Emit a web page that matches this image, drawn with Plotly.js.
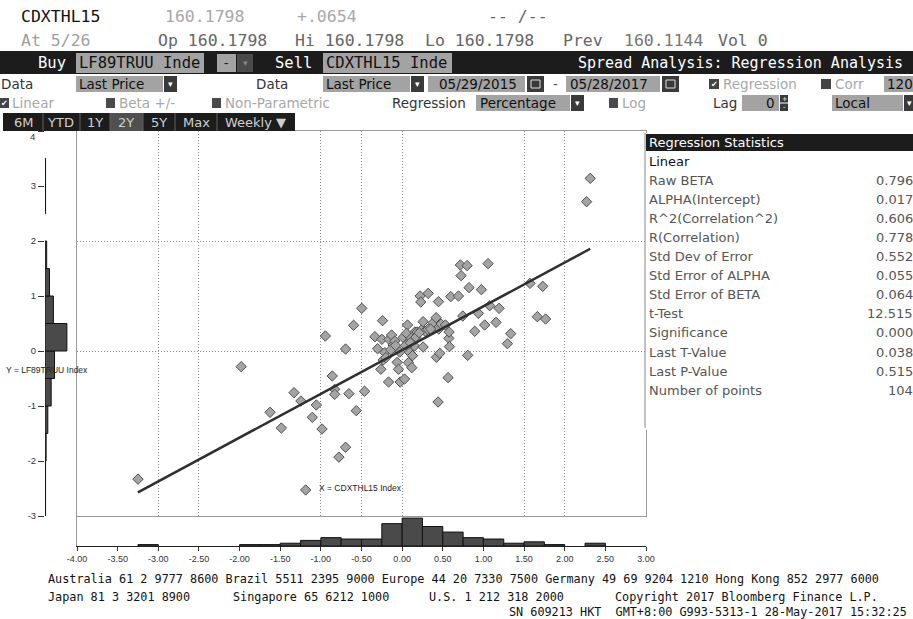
<!DOCTYPE html>
<html><head><meta charset="utf-8">
<script src="https://cdn.plot.ly/plotly-3.0.1.min.js"></script>
<style>html,body{margin:0;padding:0;background:#fff;}#chart{width:913px;height:619px;}</style>
</head><body><div id="chart"></div>
<script>
// X: CDXTHL15 Index weekly % change, Y: LF89TRUU Index weekly % change
const cdxVals = [-3.25,-1.98,-1.625,-1.486,-1.33,-1.245,-1.187,-1.105,-1.056,-0.986,-0.945,-0.86,-0.83,-0.83,-0.778,-0.696,-0.696,-0.655,-0.597,-0.565,-0.497,
-0.462,-0.335,-0.302,-0.249,-0.241,-0.262,-0.233,-0.213,-0.167,-0.16,-0.13,-0.11,-0.09,-0.061,-0.045,-0.024,0.012,0.029,0.066,0.054,
0.074,0.078,0.095,0.111,0.119,0.127,0.156,0.152,0.184,0.221,0.23,0.242,0.258,0.258,0.283,0.316,0.32,0.381,0.418,0.422,
0.447,0.451,0.463,0.479,0.442,0.533,0.565,0.574,0.577,0.582,0.598,0.693,0.717,0.725,0.746,0.799,0.807,0.823,0.893,0.938,
0.975,1.016,1.057,1.077,1.155,1.192,1.295,1.335,1.573,1.663,1.729,1.765,2.269,2.314,
-0.2,-0.14,-0.08,-0.03,0.04,0.1,0.17,0.21,0.35];
const lf89Vals = [-2.33,-0.285,-1.115,-1.40,-0.758,-0.909,-2.527,-1.206,-0.982,-1.418,0.273,-0.455,-0.697,-0.788,-1.93,-1.75,0.036,-0.776,0.467,-1.085,0.776,
-0.733,0.26,0.042,0.212,0.552,-0.333,-0.164,-0.03,-0.564,0.212,0.29,0.109,0.18,-0.206,-0.333,-0.564,0.248,-0.51,0.473,0.321,
0.152,-0.212,-0.03,0.23,-0.303,-0.085,0.345,0.091,0.345,1.0,0.891,0.388,0.533,0.073,0.358,0.394,1.048,0.515,0.606,-0.115,
0.897,0.4,-0.042,0.49,-0.927,0.473,-0.485,0.23,0.345,0.079,0.988,1.0,1.564,1.37,0.636,1.552,-0.079,1.152,0.358,0.685,
1.115,0.473,1.588,0.824,0.521,0.776,0.133,0.315,1.23,0.624,1.176,0.582,2.715,3.139,
-0.12,0.02,0.1,-0.02,0.1,0.15,0.25,0.33,0.4];

const statLabels = ["Linear","Raw BETA","ALPHA(Intercept)","R^2(Correlation^2)","R(Correlation)","Std Dev of Error","Std Error of ALPHA","Std Error of BETA","t-Test","Significance","Last T-Value","Last P-Value","Number of points"];
const statValues = ["","0.796","0.017","0.606","0.778","0.552","0.055","0.064","12.515","0.000","0.038","0.515","104"];
const rawBeta = 0.796, alphaIntercept = 0.017;

const yTickVals = [-3,-2,-1,0,1,2,3,4];
const xTickVals = [-4,-3.5,-3,-2.5,-2,-1.5,-1,-0.5,0,0.5,1,1.5,2,2.5,3];
const xGridVals = [-3,-2.5,-1,-0.5,0,1.5,2];
const yGridVals = [0,2];

const footerLine1 = "Australia 61 2 9777 8600 Brazil 5511 2395 9000 Europe 44 20 7330 7500 Germany 49 69 9204 1210 Hong Kong 852 2977 6000";
const footerLine2 = ["Japan 81 3 3201 8900","Singapore 65 6212 1000","U.S. 1 212 318 2000","Copyright 2017 Bloomberg Finance L.P."];
const footerLine3 = "SN 609213 HKT  GMT+8:00 G993-5313-1 28-May-2017 15:32:25";

const W = 913, H = 619;
const X = p => p / W, Y = p => 1 - p / H;
const MONO = "DejaVu Sans Mono", SANS = "DejaVu Sans", ARIAL = "Liberation Sans";
const shapes = [], annotations = [];
function rect(x0, y0, x1, y1, fill, lineColor) {
  shapes.push({type:'rect', xref:'paper', yref:'paper', x0:X(x0), x1:X(x1), y0:Y(y1), y1:Y(y0),
    fillcolor: fill, line:{width: lineColor ? 1 : 0, color: lineColor || fill}, layer:'above'});
}
function vline(x, y0, y1, color) {
  shapes.push({type:'line', xref:'paper', yref:'paper', x0:X(x), x1:X(x), y0:Y(y0), y1:Y(y1), line:{width:1, color}, layer:'above'});
}
function txt(x, y, text, o) {
  o = o || {};
  annotations.push({xref:'paper', yref:'paper', x:X(x), y:Y(y), text, showarrow:false,
    xanchor:o.anchor || 'left', yanchor:'middle', borderpad:0,
    font:{family:o.family || MONO, size:o.size || 16.5, color:o.color || '#111'}});
}

// Header rows
txt(20, 17, 'CDXTHL15', {color:'#111'});
txt(164, 17, '160.1798', {color:'#a8a8a8'});
txt(296, 17, '+.0654', {color:'#a8a8a8'});
txt(487, 17, '-- /--', {color:'#666'});
txt(20, 40, 'At 5/26', {color:'#a0a0a0'});
txt(157, 40, 'Op 160.1798', {color:'#666'});
txt(294, 40, 'Hi 160.1798', {color:'#666'});
txt(424, 40, 'Lo 160.1798', {color:'#666'});
txt(562, 40, 'Prev', {color:'#666'});
txt(623, 40, '160.1144', {color:'#777'});
txt(717, 40, 'Vol 0', {color:'#666'});

// Row 3 black bar
rect(0, 51, 913, 74, '#1c1c1c');
txt(67, 63, 'Buy', {anchor:'right', color:'#fff', size:15.5});
rect(76, 53, 204, 73, '#a3a3a3');
txt(78, 63, 'LF89TRUU Inde', {size:15.5, color:'#111'});
rect(217, 54, 236, 72, '#a3a3a3');
txt(226, 63, '-', {anchor:'center', size:14, color:'#222'});
rect(237, 54, 253, 72, '#4a4a4a');
txt(245, 63, '▾', {anchor:'center', family:SANS, size:9, color:'#888'});
txt(313, 63, 'Sell', {anchor:'right', color:'#fff', size:15.5});
rect(323, 53, 452, 73, '#a3a3a3');
txt(325, 63, 'CDXTHL15 Inde', {size:15.5, color:'#111'});
txt(904, 63, 'Spread Analysis: Regression Analysis', {anchor:'right', color:'#fff', size:15});

// Row 4
const R4 = 84, F4 = 13.5;
txt(0, R4, 'Data', {family:SANS, size:F4, color:'#333'});
rect(76, 76, 163, 92, '#a3a3a3');
txt(78, R4, 'Last Price', {family:SANS, size:F4});
rect(164, 76, 177, 92, '#3a3a3a');
txt(170.5, R4, '▾', {anchor:'center', family:SANS, size:9, color:'#fff'});
txt(255, R4, 'Data', {family:SANS, size:F4, color:'#333'});
rect(323, 76, 410, 92, '#a3a3a3');
txt(325, R4, 'Last Price', {family:SANS, size:F4});
rect(411, 76, 424, 92, '#3a3a3a');
txt(417.5, R4, '▾', {anchor:'center', family:SANS, size:9, color:'#fff'});
rect(428, 76, 525, 92, '#a3a3a3');
txt(438, R4, '05/29/2015', {family:SANS, size:F4});
rect(527, 76, 544, 92, '#3a3a3a');
shapes.push({type:'rect', xref:'paper', yref:'paper', x0:X(531), x1:X(540), y0:Y(88), y1:Y(80), line:{width:1, color:'#ddd'}, layer:'above'});
txt(555, R4, '-', {anchor:'center', family:SANS, size:F4, color:'#555'});
rect(566, 76, 660, 92, '#a3a3a3');
txt(569, R4, '05/28/2017', {family:SANS, size:F4});
rect(662, 76, 679, 92, '#3a3a3a');
shapes.push({type:'rect', xref:'paper', yref:'paper', x0:X(666), x1:X(675), y0:Y(88), y1:Y(80), line:{width:1, color:'#ddd'}, layer:'above'});
rect(709, 79, 719, 89, '#444');
txt(714, R4, '✔', {anchor:'center', family:SANS, size:8, color:'#fff'});
txt(722, R4, 'Regression', {family:SANS, size:F4, color:'#a8a8a8'});
rect(821, 79, 831, 89, '#444');
txt(834, R4, 'Corr', {family:SANS, size:F4, color:'#a8a8a8'});
rect(884, 76, 913, 92, '#a3a3a3');
txt(886, R4, '120', {family:SANS, size:F4});

// Row 5
const R5 = 103;
rect(0, 98, 9, 108, '#444');
txt(4.5, R5, '✔', {anchor:'center', family:SANS, size:8, color:'#fff'});
txt(11, R5, 'Linear', {family:SANS, size:F4, color:'#a8a8a8'});
rect(106, 98, 115, 108, '#4a4a4a');
txt(118, R5, 'Beta +/-', {family:SANS, size:F4, color:'#a8a8a8'});
rect(212, 98, 221, 108, '#4a4a4a');
txt(224, R5, 'Non-Parametric', {family:SANS, size:F4, color:'#a8a8a8'});
txt(391, R5, 'Regression', {family:SANS, size:F4, color:'#333'});
rect(476, 95, 570, 111, '#a3a3a3');
txt(479, R5, 'Percentage', {family:SANS, size:F4});
rect(571, 95, 584, 111, '#3a3a3a');
txt(577.5, R5, '▾', {anchor:'center', family:SANS, size:9, color:'#fff'});
rect(609, 98, 618, 108, '#4a4a4a');
txt(621, R5, 'Log', {family:SANS, size:F4, color:'#a8a8a8'});
txt(712, R5, 'Lag', {family:SANS, size:F4, color:'#333'});
rect(742, 95, 779, 111, '#a3a3a3');
txt(776, R5, '0', {anchor:'right', family:SANS, size:F4});
rect(780, 95, 788, 102.5, '#3a3a3a');
rect(780, 103.5, 788, 111, '#3a3a3a');
txt(784, 98.8, '+', {anchor:'center', family:SANS, size:6.5, color:'#fff'});
txt(784, 107.2, '-', {anchor:'center', family:SANS, size:6.5, color:'#fff'});
rect(832, 95, 903, 111, '#a3a3a3');
txt(834, R5, 'Local', {family:SANS, size:F4});
rect(904, 95, 913, 111, '#3a3a3a');
txt(909, R5, '▾', {anchor:'center', family:SANS, size:9, color:'#fff'});

// Row 6 period buttons
rect(3, 113, 295, 131, '#1c1c1c');
rect(110, 113, 143, 131, '#505050');
[43, 80, 110, 143, 175, 217].forEach(x => vline(x, 113, 131, '#606060'));
const btns = [['6M',24],['YTD',61],['1Y',95],['2Y',126],['5Y',159],['Max',196]];
btns.forEach(b => txt(b[1], 122, b[0], {anchor:'center', family:SANS, size:13, color:'#cfcfcf'}));
txt(224, 122, 'Weekly ▼', {family:SANS, size:13, color:'#cfcfcf'});

// Regression statistics panel
rect(645, 133, 913, 430, '#ffffff');
vline(645, 133, 428, '#888');
rect(646, 134, 913, 151, '#1c1c1c');
txt(648, 142.5, 'Regression Statistics', {family:SANS, size:13, color:'#fff'});
statLabels.forEach((lab, i) => {
  const yy = 161 + i * 19.1;
  txt(648, yy, lab, {family:SANS, size:13, color: i === 0 ? '#111' : '#555'});
  if (statValues[i]) txt(914, yy, statValues[i], {anchor:'right', family:SANS, size:13, color:'#555'});
});

// top y tick label sits just below the toolbar
txt(36, 137, '4', {anchor:'right', family:ARIAL, size:9.5, color:'#333'});

// axis name labels
txt(5, 370, 'Y = LF89TRUU Index', {family:ARIAL, size:8.5, color:'#222'});
txt(318, 488, 'X = CDXTHL15 Index', {family:ARIAL, size:8.5, color:'#222'});

// Footer
const FF = {family:MONO, size:11.8, color:'#111'};
txt(47, 579, footerLine1, FF);
[47, 232, 428, 614].forEach((x, i) => txt(x, 597, footerLine2[i], FF));
txt(908, 612, footerLine3, Object.assign({anchor:'right'}, FF));

// Regression line from the data range
const xMin = Math.min(...cdxVals), xMax = Math.max(...cdxVals);
const regX = [xMin, xMax];
const regY = regX.map(v => alphaIntercept + rawBeta * v);

const traces = [
  {type:'histogram', y: lf89Vals, ybins:{start:-3, end:4, size:0.5}, xaxis:'x2', yaxis:'y2',
   marker:{color:'#4a4a4a', line:{color:'#111', width:1}}, hoverinfo:'skip'},
  {type:'histogram', x: cdxVals, xbins:{start:-4, end:3, size:0.25}, xaxis:'x3', yaxis:'y3',
   marker:{color:'#4a4a4a', line:{color:'#111', width:1}}, hoverinfo:'skip'},
  {type:'scatter', mode:'markers', x: cdxVals, y: lf89Vals, xaxis:'x', yaxis:'y',
   marker:{symbol:'diamond', size:8, color:'#a4a4a4', line:{color:'#505050', width:1}}},
  {type:'scatter', mode:'lines', x: regX, y: regY, xaxis:'x', yaxis:'y',
   line:{color:'#2f2f2f', width:2.5}}
];

const plotDomX = [X(77), X(646)];
const plotDomY = [Y(516), Y(131)];
const layout = {
  width: W, height: H, margin:{l:0, r:0, t:0, b:0},
  paper_bgcolor:'#fff', plot_bgcolor:'rgba(0,0,0,0)', showlegend:false, bargap:0,
  xaxis:{domain: plotDomX, range:[-4,3], tickvals: xGridVals, showticklabels:false, ticks:'',
    showgrid:true, gridcolor:'#8c8c8c', griddash:'1px,2px', gridwidth:1, zeroline:false,
    showline:true, linecolor:'#999', mirror:true, anchor:'y', fixedrange:true},
  yaxis:{domain: plotDomY, range:[-3,4], tickvals: yGridVals, showticklabels:false, ticks:'',
    showgrid:true, gridcolor:'#8c8c8c', griddash:'1px,2px', gridwidth:1, zeroline:false,
    showline:true, linecolor:'#999', mirror:true, anchor:'x', fixedrange:true},
  xaxis2:{domain:[X(45), X(77)], range:[0,57], showgrid:false, zeroline:false, showticklabels:false,
    ticks:'', showline:false, anchor:'y2'},
  yaxis2:{domain: plotDomY, range:[-3,4], tickvals: yTickVals, ticktext: yTickVals.map(v => v === 4 ? '' : String(v)),
    ticks:'outside', ticklen:6, tickcolor:'#333',
    tickfont:{family:ARIAL, size:9.5, color:'#333'}, showgrid:false, zeroline:false, showline:false, anchor:'x2'},
  xaxis3:{domain: plotDomX, range:[-4,3], tickvals: xTickVals, ticktext: xTickVals.map(v => v.toFixed(2)),
    ticks:'outside', ticklen:4, tickcolor:'#333', tickfont:{family:ARIAL, size:9, color:'#333'},
    showline:true, linecolor:'#222', showgrid:false, zeroline:false, anchor:'y3'},
  yaxis3:{domain:[Y(546), Y(516)], range:[0,21.5], showticklabels:false, ticks:'', showgrid:false, zeroline:false,
    showline:true, linecolor:'#999', anchor:'x3'},
  shapes, annotations
};
Plotly.newPlot('chart', traces, layout, {staticPlot:true, displayModeBar:false});
</script></body></html>
